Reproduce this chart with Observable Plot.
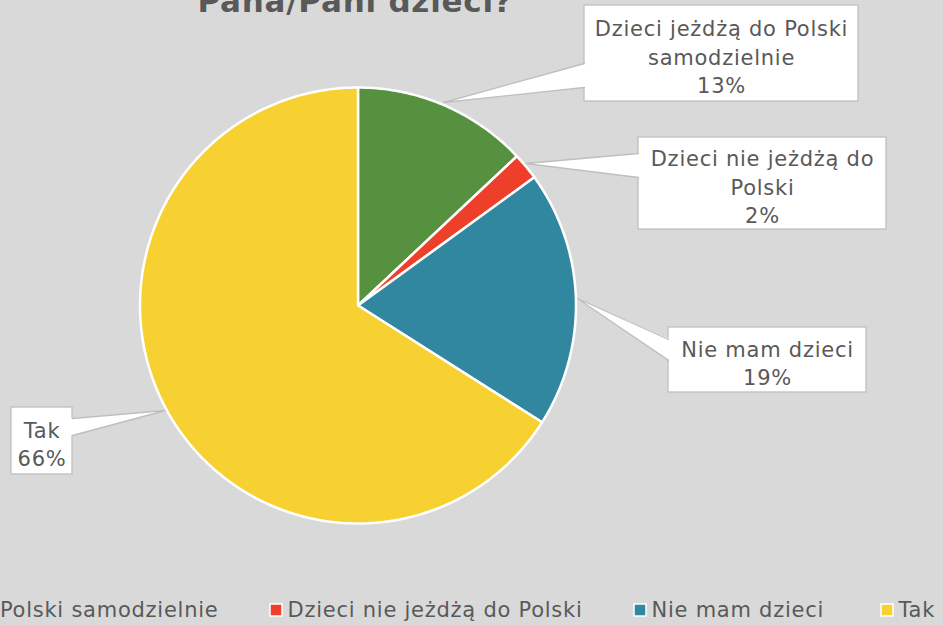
<!DOCTYPE html>
<html>
<head>
<meta charset="utf-8">
<script src="https://cdn.jsdelivr.net/npm/d3@7"></script>
<script src="https://cdn.jsdelivr.net/npm/@observablehq/plot@0.6"></script>
<style>
  html, body { margin: 0; padding: 0; background: #d9d9d9; overflow: hidden; }
  #chart svg { display: block; overflow: visible; }
  #chart svg text { letter-spacing: 0.75px; }
</style>
</head>
<body>
<div id="chart"></div>
<script>
// ---- data ----
const title = "Pana/Pani dzieci?";
const categories = ["Dzieci jeżdżą do Polski samodzielnie", "Dzieci nie jeżdżą do Polski", "Nie mam dzieci", "Tak"];
const values = [13, 2, 19, 66];
const labelText = [
  ["Dzieci jeżdżą do Polski", "samodzielnie"],
  ["Dzieci nie jeżdżą do", "Polski"],
  ["Nie mam dzieci"],
  ["Tak"]
];
const colors = ["#55913e", "#ee3f2b", "#31879f", "#f6d131"];

// ---- layout (pixels) ----
const W = 943, H = 625;
const cx = 357.5, cy = 305, R = 218;
const u = px => (px - cx) / R;   // pixel x -> pie units
const v = py => (cy - py) / R;   // pixel y -> pie units (up)
const boxes = [
  {x1: 584, x2: 858, y1: 5, y2: 101, wedge: {bx: 584, bt: 63, bb: 87, tx: 443, ty: 102}},
  {x1: 638, x2: 886, y1: 137, y2: 229, wedge: {bx: 638, bt: 153, bb: 177, tx: 525, ty: 163}},
  {x1: 668, x2: 866, y1: 327, y2: 392, wedge: {bx: 668, bt: 339, bb: 360, tx: 577, ty: 298}},
  {x1: 11, x2: 72, y1: 407, y2: 474, wedge: {bx: 72, bt: 418, bb: 435, tx: 165, ty: 410}}
];
const legendStart = [null, 287, 651, 898];
const legendFirstEnd = 218;
const legendY = 610;
const fontSize = 21, ls = 0.75;

// ---- pie geometry from values ----
const arcs = d3.pie().sort(null).value(d => d)(values);
const slicePts = [];
arcs.forEach((a, i) => {
  slicePts.push({key: categories[i], x: 0, y: 0});
  const n = Math.max(2, Math.ceil((a.endAngle - a.startAngle) / (Math.PI / 180)));
  for (let k = 0; k <= n; k++) {
    const t = a.startAngle + (a.endAngle - a.startAngle) * k / n;
    slicePts.push({key: categories[i], x: Math.sin(t), y: Math.cos(t)});
  }
});

// ---- callouts ----
const boxData = boxes.map((b, i) => ({x1: u(b.x1), x2: u(b.x2), y1: v(b.y1), y2: v(b.y2), key: i}));
const wedgeFill = [], wedgeSide = [];
boxes.forEach((b, i) => {
  const w = b.wedge;
  const inward = w.bx < w.tx ? -2 : 2;
  wedgeFill.push({id: i, x: u(w.bx + inward), y: v(w.bt)}, {id: i, x: u(w.tx), y: v(w.ty)}, {id: i, x: u(w.bx + inward), y: v(w.bb)});
  wedgeSide.push({id: i, x: u(w.bx), y: v(w.bt)}, {id: i, x: u(w.tx), y: v(w.ty)}, {id: i, x: u(w.bx), y: v(w.bb)});
});
const labels = boxes.map((b, i) => ({
  x: u((b.x1 + b.x2) / 2),
  y: v((b.y1 + b.y2) / 2 + 2),
  text: [...labelText[i], values[i] + "%"].join("\n")
}));

// ---- legend ----
const ctx = document.createElement("canvas").getContext("2d");
ctx.font = `${fontSize}px "DejaVu Sans"`;
const firstW = ctx.measureText(categories[0]).width + ls * categories[0].length;
const legend = categories.map((c, i) => {
  const start = i === 0 ? legendFirstEnd - firstW : legendStart[i];
  return {key: c, tx: u(start), ty: v(legendY), x1: u(start - 17), x2: u(start - 5), y1: v(legendY - 6), y2: v(legendY + 6)};
});

const chart = Plot.plot({
  width: W, height: H,
  margin: 0,
  x: {domain: [u(0), u(W)], range: [0, W], axis: null},
  y: {domain: [v(0), v(H)], range: [0, H], axis: null},
  color: {domain: categories, range: colors},
  style: {fontFamily: "'DejaVu Sans', sans-serif", background: "#d9d9d9", overflow: "visible"},
  marks: [
    Plot.line(slicePts, {x: "x", y: "y", z: "key", fill: "key", stroke: "white", strokeWidth: 2.5, strokeLinejoin: "round", curve: "linear-closed"}),
    Plot.rect(boxData, {x1: "x1", x2: "x2", y1: "y1", y2: "y2", fill: "white", stroke: "#bfbfbf", strokeWidth: 1.3}),
    Plot.line(wedgeFill, {x: "x", y: "y", z: "id", fill: "white", stroke: "none", curve: "linear-closed"}),
    Plot.line(wedgeSide, {x: "x", y: "y", z: "id", stroke: "#bfbfbf", strokeWidth: 1.3, strokeLinejoin: "miter"}),
    Plot.text(labels, {x: "x", y: "y", text: "text", fontSize, fill: "#595959", textAnchor: "middle", lineAnchor: "middle", lineHeight: 1.36}),
    Plot.text([title], {x: u(354.5), y: v(11), text: d => d, fontSize: 31, fontWeight: "bold", fill: "#595959", textAnchor: "middle", lineAnchor: "bottom"}),
    Plot.rect(legend, {x1: "x1", x2: "x2", y1: "y1", y2: "y2", fill: "key", stroke: "white", strokeWidth: 1.5}),
    Plot.text(legend, {x: "tx", y: "ty", text: "key", fontSize, fill: "#595959", textAnchor: "start", lineAnchor: "middle"})
  ]
});
document.getElementById("chart").appendChild(chart);
</script>
</body>
</html>
